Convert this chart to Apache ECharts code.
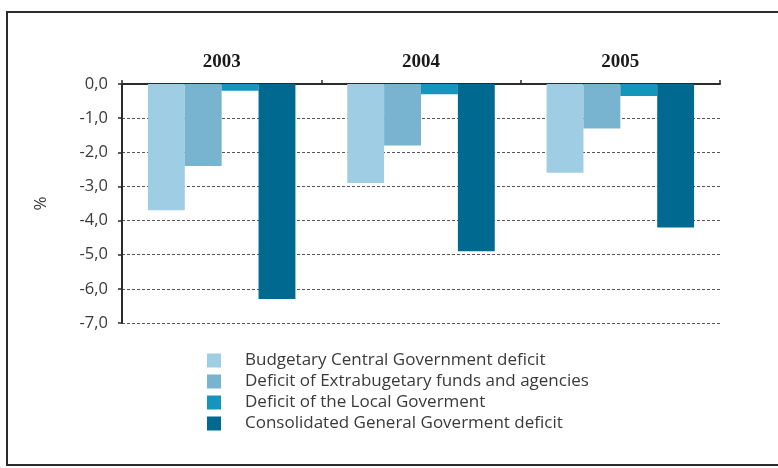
<!DOCTYPE html>
<html>
<head>
<meta charset="utf-8">
<script src="https://cdn.jsdelivr.net/npm/echarts@6/dist/echarts.min.js"></script>
<style>
  html, body { margin: 0; padding: 0; background: #fff; }
  #chart { width: 778px; height: 468px; }
</style>
</head>
<body>
<div id="chart"></div>
<script>
// Deficit components by year, % of GDP
const years = ['2003', '2004', '2005'];
const budgetaryCentral = [-3.7, -2.9, -2.6];
const extrabudgetary = [-2.4, -1.8, -1.3];
const localGovernment = [-0.2, -0.3, -0.35];
const consolidatedGeneral = [-6.3, -4.9, -4.2];

const seriesNames = [
  'Budgetary Central Government deficit',
  'Deficit of Extrabugetary funds and agencies',
  'Deficit of the Local Goverment',
  'Consolidated General Goverment deficit'
];
const seriesValues = [budgetaryCentral, extrabudgetary, localGovernment, consolidatedGeneral];
const seriesColors = ['#9fcde3', '#78b3cf', '#1594bc', '#006990'];

const chart = echarts.init(document.getElementById('chart'), null, { renderer: 'canvas' });

const textFont = '"Open Sans"';

chart.setOption({
  animation: false,
  backgroundColor: '#ffffff',
  graphic: [{
    type: 'rect',
    shape: { x: 7, y: 12, width: 820, height: 453 },
    style: { fill: 'none', stroke: '#2b2b2b', lineWidth: 2 },
    z: -1
  }],
  grid: { left: 122, right: 58, top: 84, bottom: 145, containLabel: false },
  legend: {
    orient: 'vertical',
    left: 207,
    top: 352,
    padding: 0,
    itemWidth: 14,
    itemHeight: 14,
    itemGap: 4,
    icon: 'rect',
    data: seriesNames,
    textStyle: {
      fontFamily: textFont,
      fontSize: 17,
      lineHeight: 16,
      color: '#3a3a3a',
      padding: [0, 0, 0, 19]
    }
  },
  xAxis: {
    type: 'category',
    position: 'top',
    data: years,
    axisLine: { show: true, lineStyle: { color: '#2b2b2b', width: 2 } },
    axisTick: { show: true, length: 4, lineStyle: { color: '#2b2b2b', width: 1.5 } },
    axisLabel: {
      margin: 12,
      fontFamily: 'Liberation Serif',
      fontWeight: 'bold',
      fontSize: 19,
      color: '#1a1a1a'
    },
    splitLine: { show: false }
  },
  yAxis: {
    type: 'value',
    min: -7,
    max: 0,
    interval: 1,
    name: '%',
    nameLocation: 'middle',
    nameGap: 72,
    nameRotate: 90,
    nameTextStyle: { fontFamily: textFont, fontSize: 17, color: '#3a3a3a' },
    axisLine: { show: true, lineStyle: { color: '#2b2b2b', width: 2 } },
    axisTick: { show: true, length: 4, lineStyle: { color: '#2b2b2b', width: 1.5 } },
    axisLabel: {
      margin: 14,
      fontFamily: textFont,
      fontSize: 16.5,
      color: '#3a3a3a',
      formatter: v => v.toFixed(1).replace('.', ',')
    },
    splitLine: { show: true, lineStyle: { color: '#555555', width: 1, type: [3, 2] } }
  },
  series: seriesNames.map((name, i) => ({
    name: name,
    type: 'bar',
    data: seriesValues[i],
    barGap: '0%',
    barCategoryGap: '26%',
    itemStyle: { color: seriesColors[i] }
  }))
});
</script>
</body>
</html>
